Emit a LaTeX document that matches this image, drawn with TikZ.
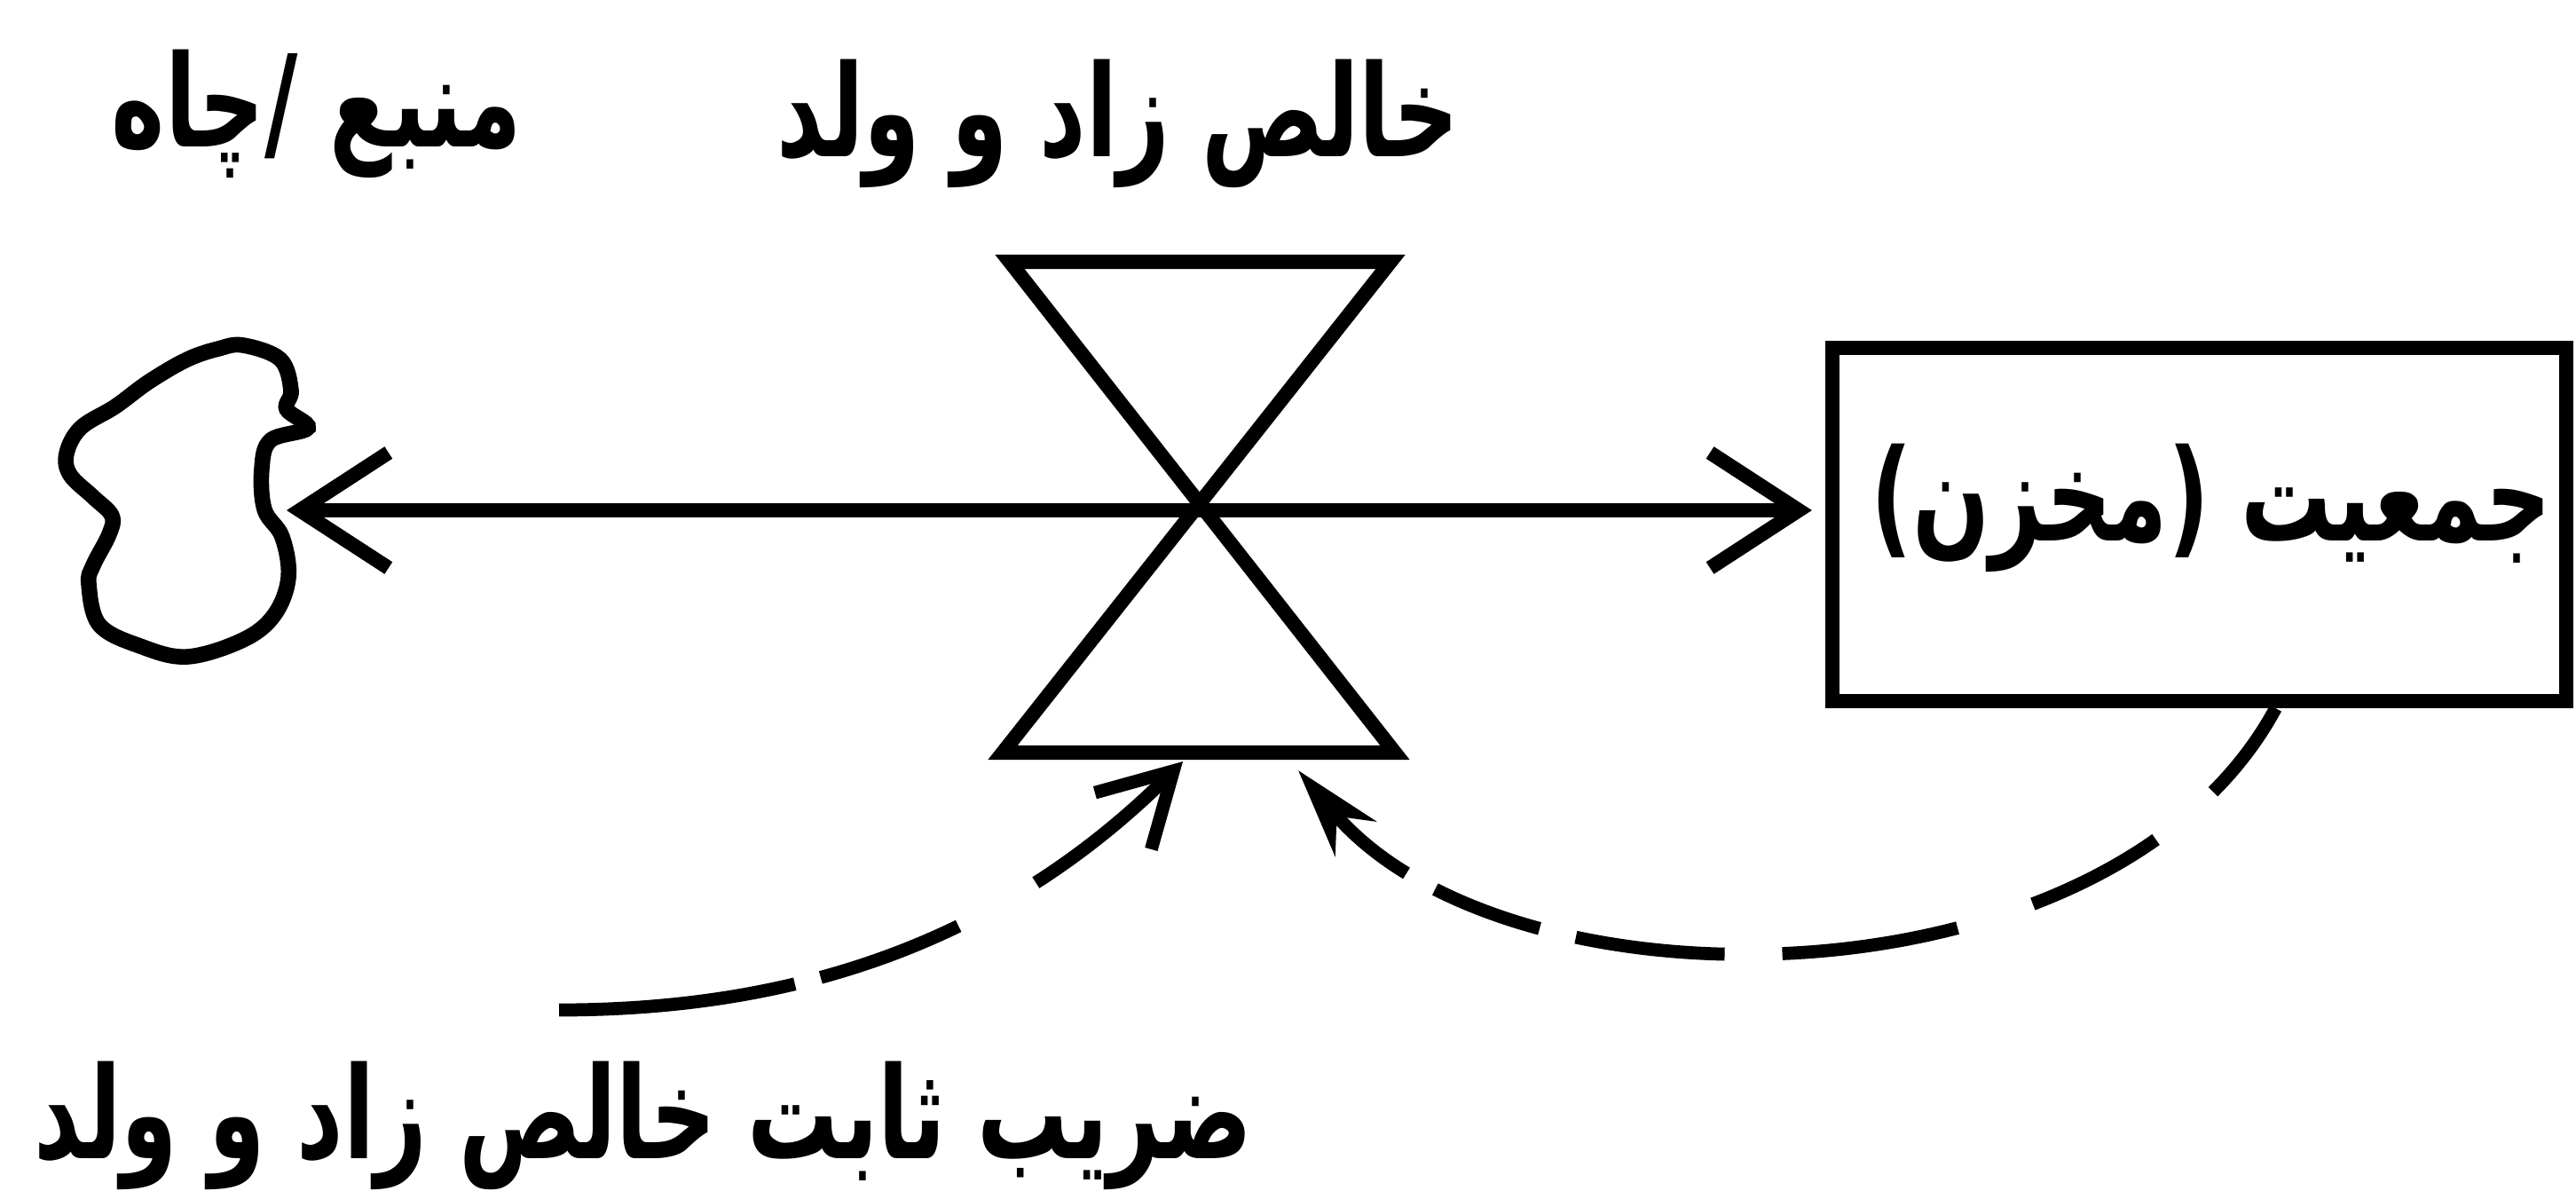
\documentclass[tikz,border=0pt]{standalone}
\usepackage{fontspec}
\newfontfamily\arabicfont[Script=Arabic, FakeStretch=0.71]{DejaVu Sans}
\TeXXeTstate=1
\usetikzlibrary{arrows.meta,positioning,calc}
\definecolor{sdink}{HTML}{000000}

\begin{document}
\begin{tikzpicture}[
  line width=4.6pt, draw=sdink,
  lbl/.style={font=\arabicfont\bfseries\fontsize{41}{48}\selectfont, text=sdink, inner sep=0pt},
  stockbox/.style={draw=sdink, line width=4.6pt, minimum width=82.7mm, minimum height=39.8mm, inner sep=0pt},
  flowarr/.style={draw=sdink, line width=4.6pt, -{Straight Barb[length=10mm,width=13mm]}},
  infoarr/.style={draw=sdink, line width=4.2pt},
]
\useasboundingbox (0,0) rectangle (29.03,-13.5);

% Nube (fuente / sumidero)
\draw[line width=5pt] plot[smooth cycle, tension=0.6] coordinates {
  (2.74,-3.89) (3.16,-4.05) (3.28,-4.40) (3.23,-4.61) (3.47,-4.82) (3.05,-4.96)
  (2.95,-5.28) (2.98,-5.74) (3.18,-6.05) (3.25,-6.51) (3.09,-6.93) (2.74,-7.21)
  (2.11,-7.40) (1.58,-7.28) (1.12,-7.04) (1.00,-6.58) (1.05,-6.37) (1.23,-6.02)
  (1.26,-5.81) (1.05,-5.60) (0.79,-5.35) (0.75,-5.11) (0.91,-4.82) (1.30,-4.58)
  (1.68,-4.30) (2.11,-4.05) (2.46,-3.93)};
\coordinate (cloud) at (3.23,-5.75);

% Valvula del flujo
\coordinate (valve) at (13.52,-5.75);
\coordinate (valvebot) at (13.52,-8.48);
\draw[line join=miter] (11.38,-2.95) -- (15.67,-2.95) -- (11.30,-8.48) -- (15.72,-8.48) -- cycle;

% Nivel (stock)
\node[stockbox] (stock) at (24.785,-5.91) {};
\node[lbl] (stocklbl) at ([xshift=1.35mm,yshift=1.9mm]stock.center) {\beginR جمعیت (مخزن)\endR};

% Etiquetas
\node[lbl] (srclbl) at (3.57,-1.28) {\beginR منبع /چاه\endR};
\node[lbl] (ratelbl) at (12.60,-1.39) {\beginR خالص زاد و ولد\endR};
\node[lbl] (constlbl) at (7.25,-12.68) {\beginR ضریب ثابت خالص زاد و ولد\endR};
\coordinate (ktail) at (6.30,-11.38);

% Flujo
\draw[flowarr] (valve) -- (cloud);
\draw[flowarr, shorten >=1.5mm] (valve) -- (valve -| stock.west);

% Enlaces de informacion
\draw[infoarr, dash pattern=on 26.8mm off 3mm on 16.6mm off 10mm on 40mm,
      -{Straight Barb[length=8mm,width=9mm]}]
  (ktail) .. controls (9.0,-11.38) and (11.3,-10.6) .. ([xshift=-1.9mm,yshift=-1mm]valvebot);
\draw[infoarr, dash pattern=on 11.8mm off 8.4mm on 15.7mm off 8.9mm on 20mm off 6.5mm on 16.9mm off 4.2mm on 12.6mm off 3.7mm on 25mm,
      -{Stealth[length=10mm,width=6mm]}]
  ([xshift=8.6mm]stock.south) .. controls (23.8,-11.4) and (17.0,-11.5) .. ([xshift=11.1mm,yshift=-2mm]valvebot);

\end{tikzpicture}
\end{document}
